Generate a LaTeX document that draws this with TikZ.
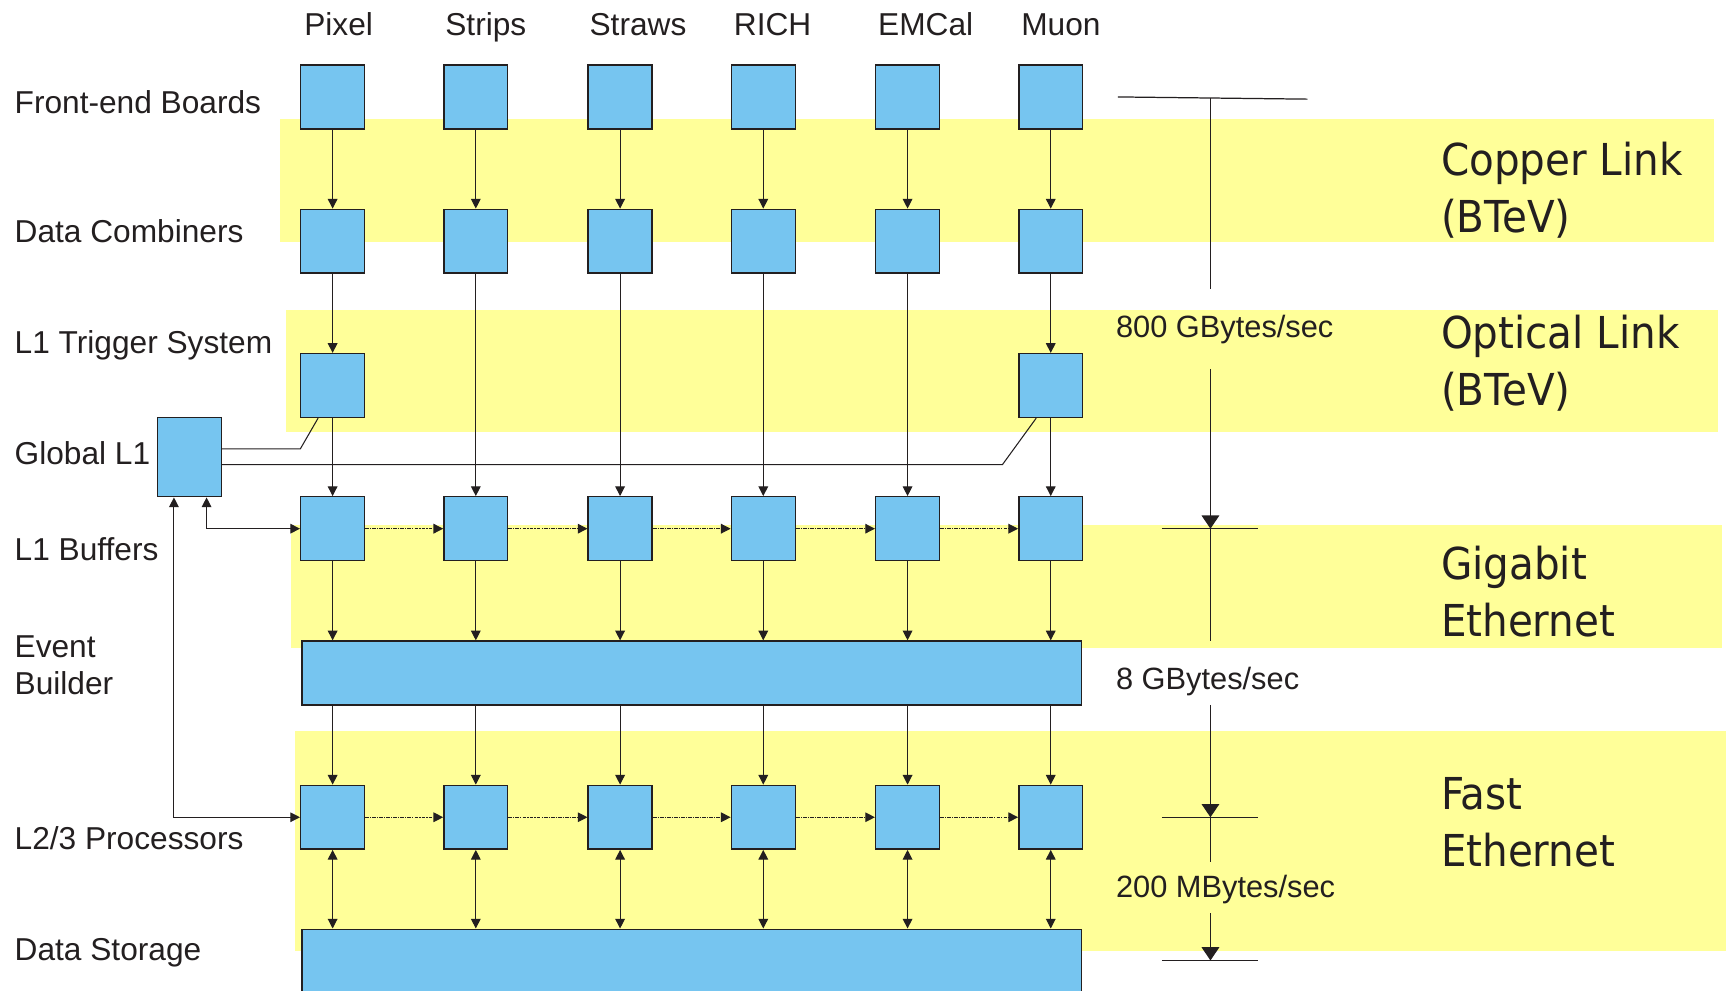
\documentclass[tikz,border=0pt]{standalone}
\usepackage{fontspec}
\setmainfont{Liberation Sans}
\newfontfamily\bandfont[FakeStretch=0.92]{DejaVu Sans}
\usetikzlibrary{arrows.meta}

\definecolor{boxblue}{RGB}{118,197,240}
\definecolor{bandyellow}{RGB}{255,255,153}
\definecolor{ink}{RGB}{35,31,32}

\begin{document}
\begin{tikzpicture}[x=0.022cm, y=-0.022cm,
    blk/.style={draw=ink, line width=0.8pt, fill=boxblue, inner sep=0pt,
                minimum width=1.276cm, minimum height=1.276cm},
    flow/.style={draw=ink, line width=0.6pt, -{Triangle[length=5.5pt, width=5.5pt]}},
    both/.style={flow, {Triangle[length=5.5pt, width=5.5pt]}-{Triangle[length=5.5pt, width=5.5pt]}},
    side/.style={flow, dash pattern=on 2.2pt off 0.6pt on 0.6pt off 0.6pt},
    tick/.style={draw=ink, line width=0.7pt},
    rate/.style={tick, -{Triangle[length=7.5pt, width=10pt]}},
    lab/.style={anchor=base west, inner sep=0pt, text=ink, align=left,
                font=\fontsize{18}{21.2}\selectfont},
    det/.style={anchor=base west, inner sep=0pt, text=ink,
                font=\fontsize{18}{21}\selectfont},
    bw/.style={anchor=base west, inner sep=0pt, text=ink,
               font=\fontsize{17.5}{21}\selectfont},
    band/.style={anchor=west, inner sep=0pt, text=ink, align=left,
                 font=\bandfont\fontsize{25}{32.4}\selectfont}]

\useasboundingbox (0,0) rectangle (1568,899);
\clip (0,0) rectangle (1568,899);

% Yellow link bands
\foreach \xa/\ya/\xb/\yb in {254/108/1556/220, 260/281/1560/392,
                             264/477/1563/588, 268/664/1567/863} {
    \fill[bandyellow] (\xa,\ya) rectangle (\xb,\yb);
}

% Detector columns
\foreach \n/\x/\h/\t in {1/302/276/Pixel, 2/432/404/Strips, 3/563/535/Straws,
                         4/693/666/RICH, 5/824/797/EMCal, 6/954/927/Muon} {
    \node[det] (hd\n) at (\h,32) {\t};
    \node[blk] (fe\n) at (\x,88) {};
    \node[blk] (dc\n) at (\x,219) {};
    \node[blk] (lb\n) at (\x,480) {};
    \node[blk] (ep\n) at (\x,742) {};
}
\node[blk] (lt1) at (302,350) {};
\node[blk] (lt6) at (954,350) {};
\node[blk, minimum height=1.584cm] (gl) at (172,415) {};
\node[blk, minimum width=15.576cm] (eb) at (628,611) {};
\node[blk, minimum width=15.576cm, minimum height=2cm, anchor=north] (ds) at (628,843) {};

% Row labels
\node[lab] (tfe) at (13,103) {Front-end Boards};
\node[lab] (tdc) at (13,220) {Data Combiners};
\node[lab] (tlt) at (13,321) {L1 Trigger System};
\node[lab] (tgl) at (13,422) {Global L1};
\node[lab] (tlb) at (13,509) {L1 Buffers};
\node[lab, anchor=west] (teb) at (13,604) {Event\\Builder};
\node[lab] (tep) at (13,771) {L2/3 Processors};
\node[lab] (tds) at (13,872) {Data Storage};

% Vertical data flow
\foreach \n in {1,...,6} {
    \draw[flow] (fe\n) -- (dc\n);
    \draw[flow] (lb\n) -- (lb\n |- eb.north);
    \draw[flow] (ep\n |- eb.south) -- (ep\n);
    \draw[both] (ep\n) -- (ep\n |- ds.north);
}
\foreach \n in {1,6} {
    \draw[flow] (dc\n) -- (lt\n);
    \draw[flow] (lt\n) -- (lb\n);
}
\foreach \n in {2,...,5} {
    \draw[flow] (dc\n) -- (lb\n);
}

% Sideways links between neighbours
\foreach \a/\b in {1/2, 2/3, 3/4, 4/5, 5/6} {
    \draw[side] (lb\a) -- (lb\b);
    \draw[side] (ep\a) -- (ep\b);
}

% Global L1 links
\draw[tick, line width=0.6pt] (gl.14.5) -- ++(71,0) -- (lt1.-114);
\draw[tick, line width=0.6pt] (gl.-13.6) -- ++(708.5,0) -- (lt6.-114);
\draw[both] (gl.-67.4) |- (lb1);
\draw[both] (gl.-111.25) |- (ep1);

% Bandwidth scale
\coordinate (s0) at (1099,89);
\coordinate (s1) at (1099,480);
\coordinate (s2) at (1099,742);
\coordinate (s3) at (1099,872);
\coordinate (g0) at (1099,262);
\coordinate (g1) at (1099,335);
\coordinate (g2) at (1099,582);
\coordinate (g3) at (1099,640);
\coordinate (g4) at (1099,783);
\coordinate (g5) at (1099,829);
\draw[tick] (s0) ++(-84,-1) -- ++(172,2);
\foreach \s in {s1,s2,s3} {
    \draw[tick] (\s) ++(-44,0) -- ++(87,0);
}
\draw[tick] (s0) -- (g0);
\draw[rate] (g1) -- (s1);
\draw[tick] (s1) -- (g2);
\draw[rate] (g3) -- (s2);
\draw[tick] (s2) -- (g4);
\draw[rate] (g5) -- (s3);
\node[bw] (r800) at (1013,306) {800 GBytes/sec};
\node[bw] (r8) at (1013,626) {8 GBytes/sec};
\node[bw] (r200) at (1013,815) {200 MBytes/sec};

% Link types
\node[band] (copper) at (1308,173) {Copper Link\\(BTeV)};
\node[band] (optical) at (1308,330) {Optical Link\\(BTeV)};
\node[band] (gigabit) at (1308,537) {Gigabit\\Ethernet};
\node[band] (fast) at (1308,747) {Fast\\Ethernet};

\end{tikzpicture}
\end{document}
